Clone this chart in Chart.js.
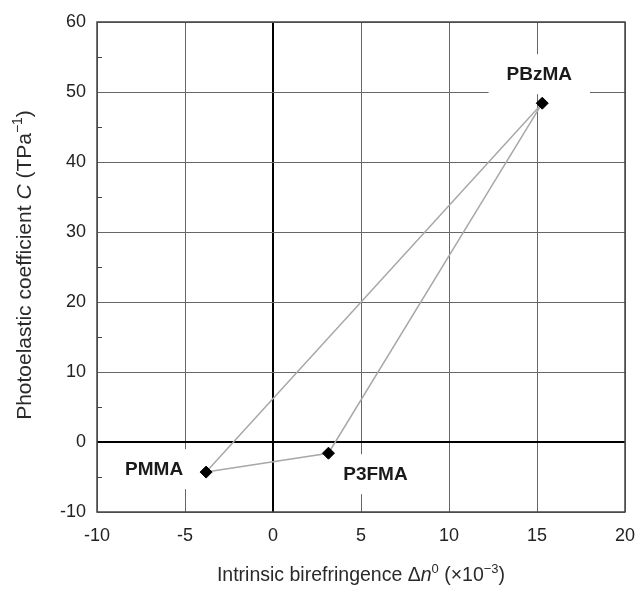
<!DOCTYPE html>
<html>
<head>
<meta charset="utf-8">
<script src="https://cdn.jsdelivr.net/npm/chart.js@4.4.1/dist/chart.umd.min.js"></script>
<style>
  html, body { margin: 0; padding: 0; background: #fff; }
  canvas { display: block; }
</style>
</head>
<body>
<canvas id="chart" width="638" height="590"></canvas>
<script>
// ---- data ----
const polymers = ["PMMA", "P3FMA", "PBzMA"];
const birefringence = [-3.8, 3.15, 15.3];   // Δn0 (×10^-3)
const photoelastic = [-4.3, -1.6, 48.4];    // C (TPa^-1)
const trianglePath = [0, 2, 1, 0];          // PMMA -> PBzMA -> P3FMA -> PMMA
const xRange = [-10, 20];
const yRange = [-10, 60];
const yMinorTicks = [-5, 5, 15, 25, 35, 45, 55];

// label placement relative to each point (px)
const labelOffsets = { PMMA: [-52, -2], P3FMA: [47, 22], PBzMA: [-3, -28] };

const FONT = "'Liberation Sans', Arial, Helvetica, sans-serif";

/* ========== rich text helper (italic / superscript runs) ========== */
function drawRuns(ctx, runs, cx, baseline, size) {
    const fonts = runs.map(r => (r.i ? "italic " : "") + (r.sup ? Math.round(size * 0.65) : size) + "px " + FONT);
    const widths = runs.map((r, k) => { ctx.font = fonts[k]; return ctx.measureText(r.t).width; });
    let x = cx - widths.reduce((a, b) => a + b, 0) / 2;
    runs.forEach((r, k) => {
        ctx.font = fonts[k];
        ctx.fillText(r.t, x, baseline + (r.sup ? -size * 0.42 : 0));
        x += widths[k];
    });
}

/* ========== labels, frame, minor ticks, axis titles ========== */
const decorations = {
    id: "decorations",
    beforeDatasetsDraw(chart) {
        const { ctx, scales: { x, y } } = chart;
        ctx.save();
        ctx.font = "bold 19px " + FONT;
        ctx.textAlign = "center";
        ctx.textBaseline = "middle";
        polymers.forEach((name, i) => {
            const px = x.getPixelForValue(birefringence[i]) + labelOffsets[name][0];
            const py = y.getPixelForValue(photoelastic[i]) + labelOffsets[name][1];
            const w = ctx.measureText(name).width + 36;
            ctx.fillStyle = "#fff";
            ctx.fillRect(px - w / 2, py - 21, w, 40);
            ctx.fillStyle = "#1a1a1a";
            ctx.fillText(name, px, py);
        });
        ctx.restore();
    },
    afterDraw(chart) {
        const { ctx, chartArea: a, scales: { y } } = chart;
        ctx.save();
        // frame
        ctx.strokeStyle = "#444";
        ctx.lineWidth = 1.5;
        ctx.strokeRect(a.left, a.top, a.right - a.left, a.bottom - a.top);
        // inward minor ticks on the left axis
        ctx.lineWidth = 1;
        yMinorTicks.forEach(v => {
            const py = Math.round(y.getPixelForValue(v)) + 0.5;
            ctx.beginPath();
            ctx.moveTo(a.left, py);
            ctx.lineTo(a.left + 5, py);
            ctx.stroke();
        });
        // axis titles
        ctx.fillStyle = "#2a2a2a";
        ctx.textAlign = "left";
        ctx.textBaseline = "alphabetic";
        drawRuns(ctx, [
            { t: "Intrinsic birefringence \u0394" },
            { t: "n", i: true },
            { t: "0", sup: true },
            { t: " (\u00d710" },
            { t: "\u22123", sup: true },
            { t: ")" }
        ], (a.left + a.right) / 2, 581, 19.5);

        ctx.translate(31, (a.top + a.bottom) / 2 - 2);
        ctx.rotate(-Math.PI / 2);
        drawRuns(ctx, [
            { t: "Photoelastic coefficient " },
            { t: "C", i: true },
            { t: " (TPa" },
            { t: "\u22121", sup: true },
            { t: ")" }
        ], 0, 0, 21);
        ctx.restore();
    }
};

const gridColor = c => c.tick.value === 0 ? "#000" : "#666";
const gridWidth = c => c.tick.value === 0 ? 2 : 1;

new Chart(document.getElementById("chart").getContext("2d"), {
    type: "scatter",
    data: {
        datasets: [
            {
                label: "points",
                data: polymers.map((_, i) => ({ x: birefringence[i], y: photoelastic[i] })),
                pointStyle: "rectRot",
                pointRadius: 6,
                backgroundColor: "#000",
                borderColor: "#000",
                showLine: false
            },
            {
                label: "links",
                data: trianglePath.map(i => ({ x: birefringence[i], y: photoelastic[i] })),
                showLine: true,
                pointRadius: 0,
                borderColor: "#a8a8a8",
                borderWidth: 1.5,
                fill: false
            }
        ]
    },
    options: {
        responsive: false,
        animation: false,
        layout: { padding: { top: 22, right: 13, left: 0, bottom: 0 } },
        plugins: { legend: { display: false }, tooltip: { enabled: false } },
        scales: {
            x: {
                type: "linear",
                min: xRange[0], max: xRange[1],
                ticks: { stepSize: 5, color: "#222", padding: 13, font: { family: FONT, size: 18 } },
                grid: { color: gridColor, lineWidth: gridWidth, drawTicks: false },
                border: { display: false },
                afterFit: s => { s.height = 78; s.paddingLeft = 0; s.paddingRight = 0; }
            },
            y: {
                type: "linear",
                min: yRange[0], max: yRange[1],
                ticks: { stepSize: 10, color: "#222", padding: 11, font: { family: FONT, size: 18 } },
                grid: { color: gridColor, lineWidth: gridWidth, drawTicks: false },
                border: { display: false },
                afterFit: s => { s.width = 97; s.paddingTop = 0; s.paddingBottom = 0; }
            }
        }
    },
    plugins: [decorations]
});
</script>
</body>
</html>
